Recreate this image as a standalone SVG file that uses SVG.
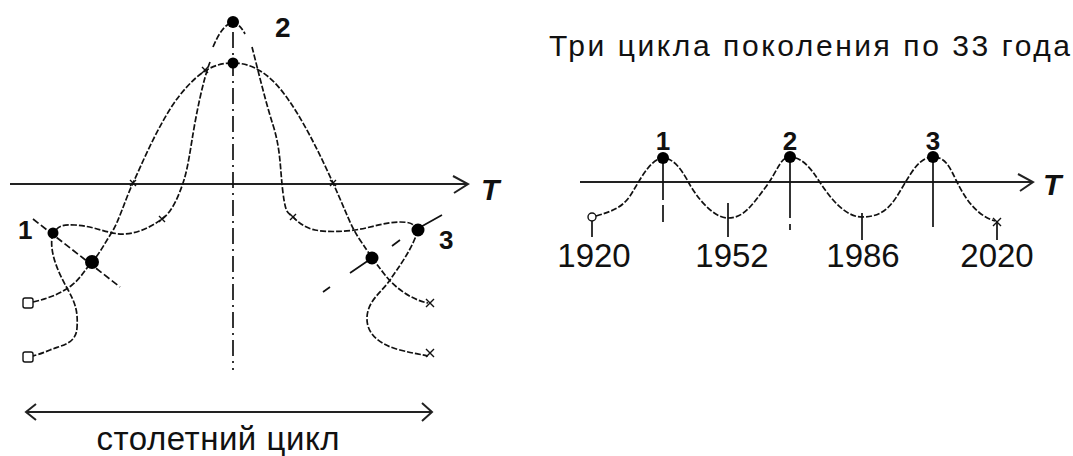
<svg xmlns="http://www.w3.org/2000/svg" width="1073" height="456" viewBox="0 0 1073 456">
<style>
.ax{stroke:#222;stroke-width:2;fill:none}
.cv{stroke:#111;stroke-width:1.7;fill:none;stroke-dasharray:6 2}
.ln{stroke:#111;stroke-width:1.7;fill:none}
.dot{fill:#000}
.t{font-family:"Liberation Sans",Arial,sans-serif;fill:#111}
.b{font-weight:bold}
.xm{stroke:#111;stroke-width:1.4;fill:none}
</style>
<rect width="1073" height="456" fill="#fff"/>
<g id="left-chart">
  <g id="left-axis">
    <path class="ax" d="M10,184 L466,184"/>
    <path class="ax" d="M453,176 L468,184 L454,193" stroke-width="2.6"/>
    <text class="t b" x="481" y="200" font-size="30" font-style="italic">T</text>
  </g>
  <path class="ln" d="M233,32 L233,370" stroke-dasharray="16 5 2 5"/>
  <path class="cv" d="M213,47 Q222,25 233,22 Q240,24 245,34"/>
  <g id="curves-left">
    <path class="cv" d="M33,302 C50,298 62,293 72,285 S86,268 92,262 S105,243 112,232 S125,200 133,183 S160,120 180,95 S215,63 233,63 S268,72 285,95 S318,150 333,183 S350,225 360,240 S375,262 385,275 S412,300 428,303"/>
    <path class="cv" d="M210,62 C203,80 196,115 192,140 S186,175 182,186 S172,212 162,219 S140,233 125,234 S95,226 75,225 S58,230 53,233"/>
    <path class="cv" d="M53,233 C48,250 58,272 67,288 S78,312 77,328 S62,345 50,350 S36,355 32,356"/>
    <path class="cv" d="M252,47 C258,70 265,100 273,125 S280,170 283,193 S288,212 293,217 S305,228 315,230 S340,232 355,230 S385,222 400,222 S413,226 417,229"/>
    <path class="cv" d="M418,230 C412,250 398,268 390,280 S368,300 367,317 S380,345 400,350 S420,354 428,356"/>
    <path class="ln" d="M33,219 L120,287" stroke-dasharray="7 3"/>
    <path class="ln" d="M442,215 L417,229 M400,240 L392,246 M372,258 L350,273 M330,287 L323,292"/>
  </g>
  <g id="markers-left">
    <circle class="dot" cx="233" cy="22" r="6"/>
    <circle class="dot" cx="233" cy="63" r="5.5"/>
    <circle class="dot" cx="53" cy="233" r="5.5"/>
    <circle class="dot" cx="92" cy="262" r="7"/>
    <circle class="dot" cx="418" cy="230" r="6.5"/>
    <circle class="dot" cx="372" cy="258" r="6.5"/>
    <rect x="23" y="298" width="10" height="10" rx="2" fill="#fff" stroke="#111" stroke-width="1.4"/>
    <rect x="23" y="352" width="10" height="10" rx="2" fill="#fff" stroke="#111" stroke-width="1.4"/>
    <path class="xm" d="M426,299 L434,307 M434,299 L426,307 M426,349 L434,357 M434,349 L426,357"/>
    <path class="xm" d="M130,180 L136,186 M136,180 L130,186 M159,216 L165,222 M165,216 L159,222 M330,180 L336,186 M336,180 L330,186 M290,214 L296,220 M296,214 L290,220 M202,67 L208,73 M208,67 L202,73"/>
  </g>
  <text class="t b" x="275" y="37" font-size="28">2</text>
  <text class="t b" x="18" y="239" font-size="26">1</text>
  <text class="t b" x="439" y="249" font-size="26">3</text>
  <g id="century-arrow">
    <path class="ax" d="M27,412 L431,412" stroke-width="1.8"/>
    <path class="ax" d="M36,404 L26,412 L36,420 M422,403 L432,412 L422,421" stroke-width="1.8"/>
    <text class="t" x="218" y="450" font-size="33" text-anchor="middle" textLength="243" lengthAdjust="spacing">столетний цикл</text>
  </g>
</g>
<g id="right-chart">
  <text class="t" x="549" y="56" font-size="30" textLength="521" lengthAdjust="spacing">Три цикла поколения по 33 года</text>
  <g id="right-axis">
    <path class="ax" d="M580,182 L1031,182"/>
    <path class="ax" d="M1018,174 L1033,182 L1020,191" stroke-width="2.6"/>
    <text class="t b" x="1043" y="195" font-size="30" font-style="italic">T</text>
  </g>
  <path class="cv" d="M596,216 C610,212 622,208 630,196 S650,158 663,158 S685,176 690,185 S712,218 728,218 S752,205 765,188 S780,157 790,157 S808,165 815,175 S840,217 862,217 S892,205 902,188 S920,157 933,157 S950,168 957,182 S975,215 995,221"/>
  <g id="ticks">
    <path class="ln" d="M663,158 L663,200 M663,205 L663,222"/>
    <path class="ln" d="M790,157 L790,218 M790,224 L790,230"/>
    <path class="ln" d="M933,157 L933,227"/>
    <path class="ln" d="M728,203 L728,237 M862,213 L862,240 M592,221 L592,237 M997,222 L997,240"/>
    <path class="xm" d="M993,218 L1001,226 M1001,218 L993,226"/>
  </g>
  <g id="peaks">
    <circle class="dot" cx="663" cy="158" r="6"/>
    <circle class="dot" cx="790" cy="157" r="6"/>
    <circle class="dot" cx="933" cy="157" r="6"/>
    <circle cx="592" cy="217" r="4" fill="#fff" stroke="#111" stroke-width="1.4"/>
    <text class="t b" x="663" y="150" font-size="26" text-anchor="middle">1</text>
    <text class="t b" x="790" y="150" font-size="26" text-anchor="middle">2</text>
    <text class="t b" x="933" y="150" font-size="26" text-anchor="middle">3</text>
  </g>
  <g id="years">
    <text class="t" x="594" y="267" font-size="33" text-anchor="middle">1920</text>
    <text class="t" x="732" y="267" font-size="33" text-anchor="middle">1952</text>
    <text class="t" x="863" y="267" font-size="33" text-anchor="middle">1986</text>
    <text class="t" x="997" y="267" font-size="33" text-anchor="middle">2020</text>
  </g>
</g>
</svg>
